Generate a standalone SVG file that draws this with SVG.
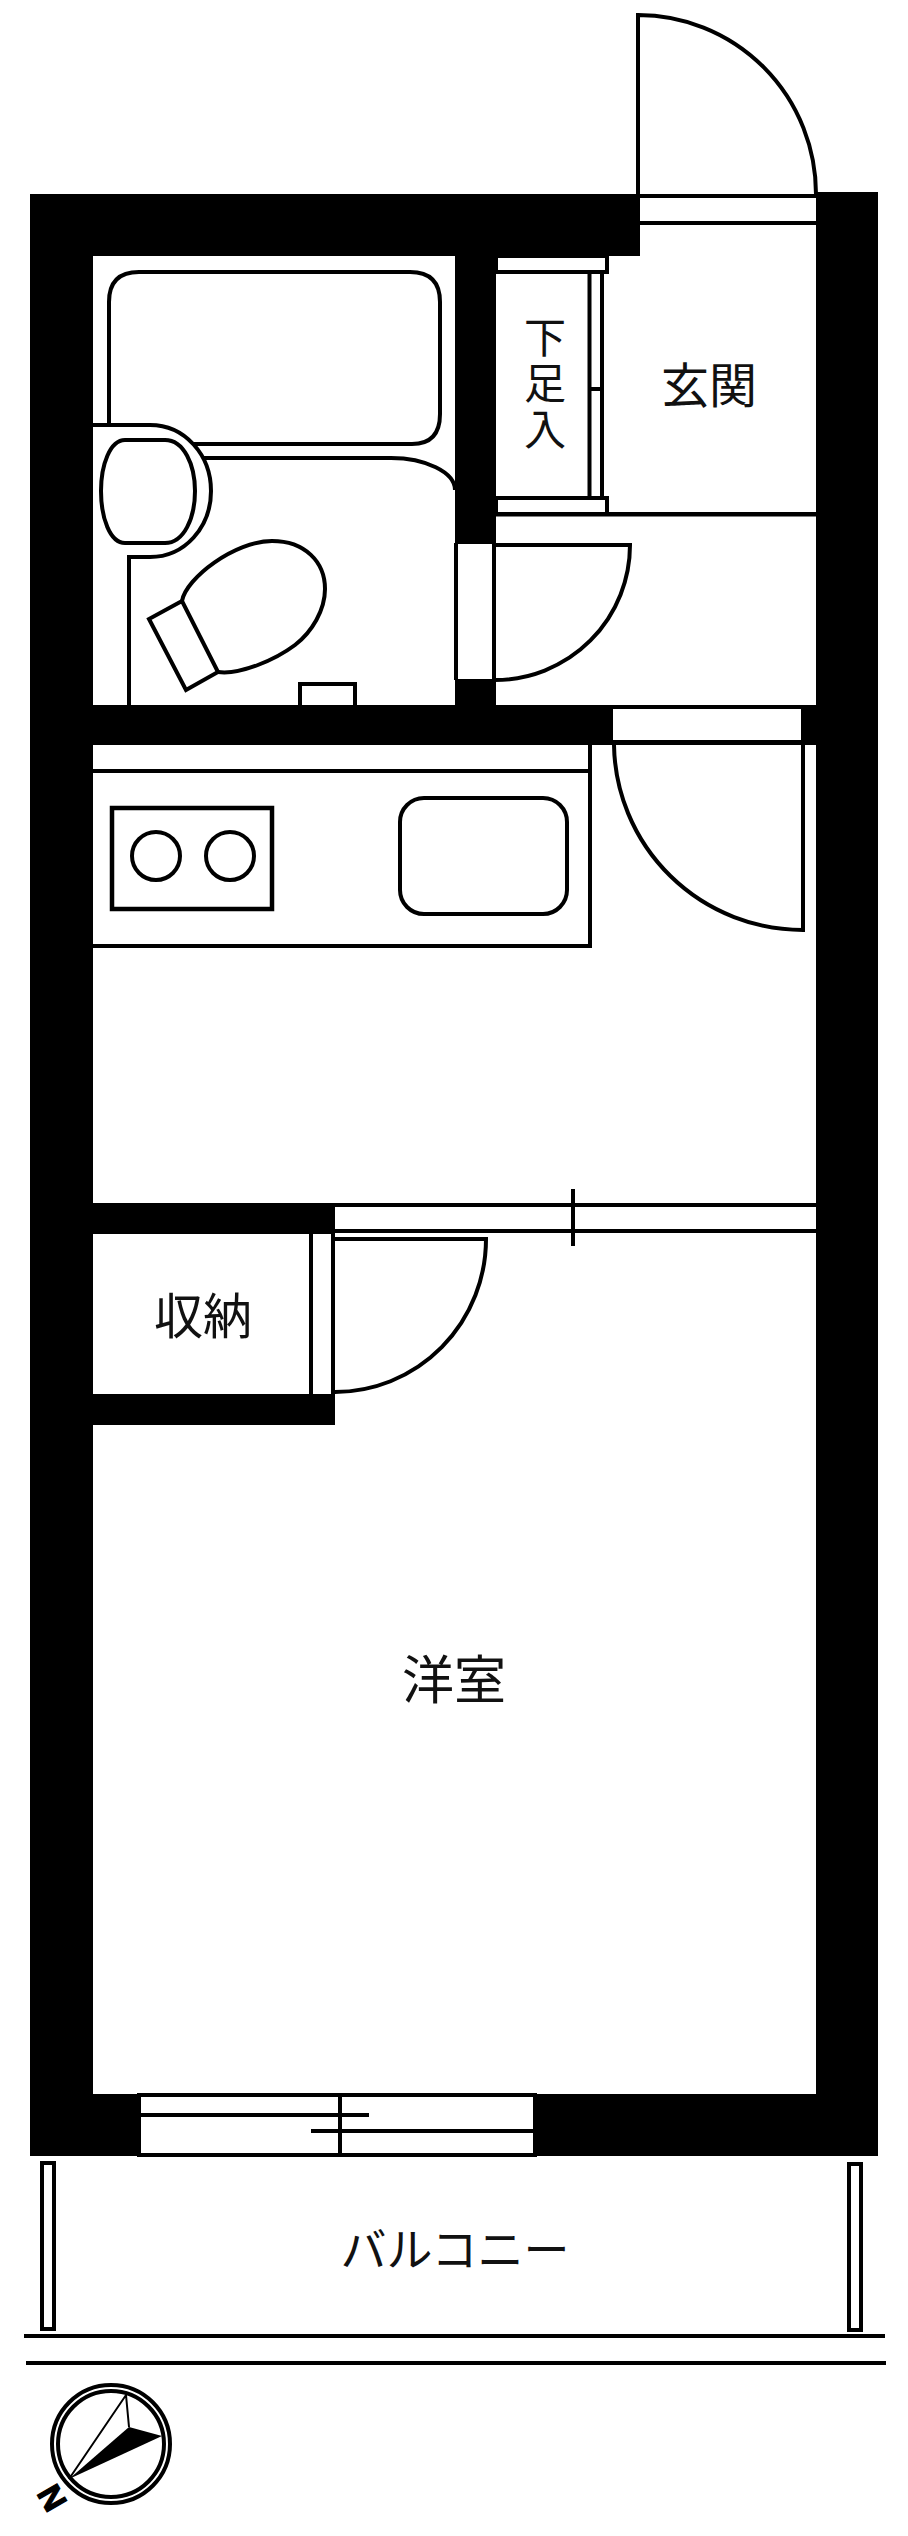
<svg xmlns="http://www.w3.org/2000/svg" width="908" height="2536" viewBox="0 0 908 2536">
<style>
.l{fill:none;stroke:#000;stroke-width:4}
.w{fill:#fff;stroke:#000;stroke-width:4}
.b{fill:#000}
.o{fill:#fff}
.t{font-family:"Noto Sans CJK JP","Noto Sans CJK SC",sans-serif;fill:#111;text-anchor:middle;font-weight:400}
</style>
<rect width="908" height="2536" fill="#fff"/>
<g id="walls">
<rect class="b" x="30" y="194" width="610" height="62"/>
<rect class="b" x="30" y="194" width="63" height="1962"/>
<rect class="b" x="816" y="192" width="62" height="1964"/>
<rect class="b" x="30" y="2094" width="848" height="62"/>
<rect class="b" x="455" y="256" width="41" height="288"/>
<rect class="b" x="455" y="679" width="41" height="30"/>
<rect class="b" x="93" y="705" width="723" height="40"/>
<rect class="b" x="93" y="1203" width="242" height="31"/>
<rect class="b" x="93" y="1394" width="242" height="31"/>
<rect class="o" x="613" y="709" width="188" height="31"/>
</g>
<g id="entrance-door">
<path class="l" d="M638 194V15A178 179 0 0 1 816 194"/>
<path class="l" d="M638 196H816M638 223H816"/>
</g>
<g id="bath">
<path class="l" d="M109 425V302Q109 272 139 272H410Q440 272 440 302V414Q440 444 412 444H194"/>
<path class="l" d="M93 425H150C185 425 211 455 211 491C211 527 185 557 150 557H129V706"/>
<path class="l" d="M125 440H165C184 440 195 465 195 491C195 518 184 543 165 543H125C110 543 101 518 101 491C101 465 110 440 125 440Z"/>
<path class="l" d="M204 458H391C425 458 455 472 455 490"/>
<path class="l" d="M182 601L149 619L186 690L218 672Z"/>
<path class="l" d="M182 601C186 578 235 541 272 541C305 541 325 562 325 589C325 610 312 632 295 645C275 660 240 675 218 672"/>
<path class="l" d="M300 706V684H355V706"/>
</g>
<g id="toilet-door">
<path class="l" d="M456 543V680M494 543V680"/>
<path class="l" d="M494 545H630A135 135 0 0 1 495 680"/>
</g>
<g id="shoe-cabinet">
<path class="b" d="M496 256H609V274H496ZM498 258V270H605V258Z" fill-rule="evenodd"/>
<path class="b" d="M496 496H609V512H816V516.5H496ZM498 500V512H605V500Z" fill-rule="evenodd"/>
<path class="l" d="M589.5 274V497M602 274V497M590 389H602"/>
<text class="t" font-size="42" x="545" y="385" style="writing-mode:vertical-rl;letter-spacing:4px">下足入</text>
</g>
<g id="genkan-label"><text class="t" font-size="48" x="709" y="403">玄関</text></g>
<g id="kitchen">
<path class="l" d="M93 771H590M590 745V946H93"/>
<rect class="l" x="112" y="808" width="160" height="101" style="stroke-width:4.5"/>
<circle class="l" cx="156" cy="856" r="24"/>
<circle class="l" cx="230" cy="856" r="24"/>
<rect class="l" x="400" y="798" width="167" height="116" rx="24"/>
</g>
<g id="kitchen-door">
<path class="l" d="M613 742H803V930A189 188 0 0 1 614 745"/>
</g>
<g id="sliding-door">
<path class="l" d="M335 1205H816M335 1231H816M573 1189V1246"/>
</g>
<g id="closet">
<path class="l" d="M311 1234V1394M333 1234V1394"/>
<path class="l" d="M335 1239H486A151 153 0 0 1 335 1392"/>
<text class="t" font-size="49" x="203" y="1334">収納</text>
</g>
<g id="western-room"><text class="t" font-size="52" x="454" y="1699">洋室</text></g>
<g id="window">
<rect class="w" x="139" y="2095" width="396" height="60"/>
<path class="l" d="M340 2095V2155M139 2115H369M311 2131H534"/>
</g>
<g id="balcony">
<rect class="l" x="42" y="2163" width="12" height="166"/>
<rect class="l" x="849" y="2164" width="12" height="166"/>
<path class="l" d="M24 2336H885M26 2363H886"/>
<text class="t" font-size="46" x="455" y="2266">バルコニー</text>
</g>
<g id="compass">
<circle class="l" cx="111" cy="2444" r="59"/>
<circle class="l" cx="111" cy="2444" r="53"/>
<path d="M69 2479L129 2427L162 2436Z" fill="#000"/>
<path d="M69 2479L126 2395L129 2427" fill="none" stroke="#000" stroke-width="2"/>
<text transform="translate(52.5 2497.5) rotate(60)" y="12" font-family="'Liberation Sans',sans-serif" font-weight="700" font-size="33" text-anchor="middle" stroke="#000" stroke-width="1.2">N</text>
</g>
</svg>
